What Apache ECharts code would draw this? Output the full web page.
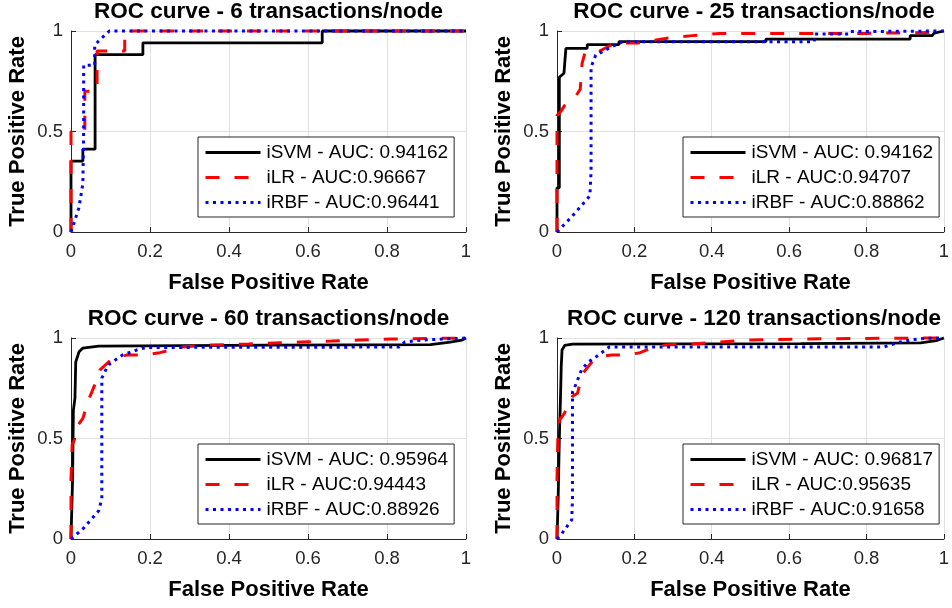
<!DOCTYPE html>
<html><head><meta charset="utf-8">
<script src="https://cdn.jsdelivr.net/npm/echarts@6/dist/echarts.min.js"></script>
<style>html,body{margin:0;padding:0;background:#fff}#c{width:952px;height:608px}</style>
</head><body><div id="c"></div>
<script>
// ---- data ----
const titles = ['ROC curve - 6 transactions/node','ROC curve - 25 transactions/node','ROC curve - 60 transactions/node','ROC curve - 120 transactions/node'];
const svmNames = ['iSVM - AUC: 0.94162','iSVM - AUC: 0.94162','iSVM - AUC: 0.95964','iSVM - AUC: 0.96817'];
const lrNames  = ['iLR - AUC:0.96667','iLR - AUC:0.94707','iLR - AUC:0.94443','iLR - AUC:0.95635'];
const rbfNames = ['iRBF - AUC:0.96441','iRBF - AUC:0.88862','iRBF - AUC:0.88926','iRBF - AUC:0.91658'];
const xTickLabels = ['0','0.2','0.4','0.6','0.8','1'];
const yTickLabels = ['0','0.5','1'];
const xName = 'False Positive Rate';
const yName = 'True Positive Rate';

const svm6 = [[0,0],[0,0.353],[0.03,0.353],[0.03,0.412],[0.061,0.412],[0.061,0.882],[0.182,0.882],[0.182,0.941],[0.636,0.941],[0.636,1],[1,1]];
const lr6  = [[0,0],[0,0.5],[0.035,0.5],[0.035,0.7],[0.066,0.7],[0.066,0.9],[0.136,0.9],[0.136,1],[1,1]];
const rbf6 = [[0,0],[0.005,0.03],[0.02,0.12],[0.03,0.24],[0.032,0.5],[0.032,0.83],[0.06,0.83],[0.06,0.93],[0.07,0.95],[0.097,1],[1,1]];

const svm25 = [[0,0],[0,0.22],[0.006,0.22],[0.006,0.77],[0.018,0.79],[0.023,0.79],[0.023,0.914],[0.078,0.914],[0.078,0.932],[0.16,0.932],[0.16,0.947],[0.54,0.947],[0.54,0.96],[0.913,0.96],[0.913,0.977],[0.97,0.977],[0.975,0.99],[1,1]];
const lr25  = [[0,0],[0,0.58],[0.01,0.6],[0.02,0.63],[0.05,0.68],[0.06,0.71],[0.065,0.71],[0.065,0.84],[0.072,0.89],[0.08,0.9],[0.11,0.9],[0.15,0.94],[0.21,0.94],[0.24,0.95],[0.28,0.963],[0.35,0.977],[0.42,0.988],[0.8,0.988],[0.97,0.993],[1,1]];
const rbf25 = [[0,0],[0.04,0.08],[0.085,0.18],[0.088,0.3],[0.088,0.82],[0.1,0.88],[0.14,0.92],[0.17,0.947],[0.665,0.947],[0.667,0.985],[0.755,0.985],[0.757,0.997],[1,1]];

const svm60 = [[0,0],[0.004,0.3],[0.006,0.64],[0.01,0.7],[0.012,0.88],[0.02,0.93],[0.03,0.95],[0.07,0.96],[0.5,0.965],[0.91,0.967],[0.96,0.98],[0.99,0.99],[1,1]];
const lr60  = [[0,0],[0,0.3],[0.003,0.47],[0.01,0.5],[0.019,0.57],[0.03,0.6],[0.044,0.69],[0.065,0.79],[0.073,0.84],[0.1,0.89],[0.14,0.915],[0.18,0.915],[0.225,0.927],[0.25,0.94],[0.28,0.955],[0.35,0.965],[0.45,0.97],[0.58,0.98],[0.66,0.985],[0.73,0.99],[0.81,0.995],[1,1]];
const rbf60 = [[0,0],[0.03,0.05],[0.07,0.14],[0.078,0.2],[0.078,0.8],[0.09,0.85],[0.1,0.875],[0.13,0.915],[0.166,0.94],[0.19,0.953],[0.83,0.955],[0.845,0.98],[0.89,0.99],[1,1]];

const svm120 = [[0,0],[0.003,0.2],[0.006,0.5],[0.009,0.7],[0.011,0.86],[0.013,0.94],[0.02,0.963],[0.04,0.97],[0.63,0.972],[0.94,0.976],[0.98,0.987],[1,1]];
const lr120  = [[0,0],[0,0.3],[0.002,0.49],[0.006,0.59],[0.019,0.625],[0.04,0.71],[0.053,0.725],[0.065,0.82],[0.09,0.88],[0.112,0.907],[0.14,0.915],[0.18,0.915],[0.215,0.927],[0.244,0.95],[0.28,0.965],[0.35,0.97],[0.42,0.98],[0.5,0.99],[0.65,0.995],[0.8,0.998],[1,1]];
const rbf120 = [[0,0],[0.01,0.02],[0.038,0.095],[0.04,0.2],[0.04,0.73],[0.05,0.775],[0.063,0.84],[0.08,0.88],[0.1,0.905],[0.135,0.955],[0.845,0.955],[0.88,0.977],[0.913,0.99],[0.947,0.998],[1,1]];

const svmData = [svm6, svm25, svm60, svm120];
const lrData  = [lr6, lr25, lr60, lr120];
const rbfData = [rbf6, rbf25, rbf60, rbf120];

// ---- layout / style ----
const FONT = '"Liberation Sans", Arial, Helvetica, sans-serif';
const AX = '#262626';
const gridPos = [
  {left:71, top:31, width:395, height:201},
  {left:557, top:31, width:394, height:201},
  {left:71, top:338, width:395, height:201},
  {left:557, top:338, width:394, height:201}
];
const legendPos = [{left:198,top:137},{left:683,top:137},{left:198,top:444},{left:683,top:444}];
const svmLine = {color:'#000000', width:2.8, type:'solid'};
const lrLine  = {color:'#ff0000', width:3, type:[14,15]};
const rbfLine = {color:'#0000ff', width:3, type:[3,4.5]};

const option = {
  backgroundColor:'#fff',
  animation:false,
  title:[], grid:[], xAxis:[], yAxis:[], legend:[], series:[]
};

for (let i = 0; i < 4; i++) {
  const g = gridPos[i];
  option.grid.push({left:g.left, top:g.top, width:g.width, height:g.height, containLabel:false});
  option.title.push({
    text: titles[i], left: g.left + g.width/2, top: g.top - 31, textAlign:'center', padding:0,
    textStyle:{fontFamily:FONT, fontSize:22.5, fontWeight:'bold', color:'#000'}
  });
  option.xAxis.push({
    type:'value', gridIndex:i, min:0, max:1, interval:0.2,
    name:xName, nameLocation:'middle', nameGap:40,
    nameTextStyle:{fontFamily:FONT, fontSize:22, fontWeight:'bold', color:'#000'},
    axisLine:{show:true, onZero:false, lineStyle:{color:AX, width:1}},
    axisTick:{show:true, inside:true, length:5, lineStyle:{color:AX}},
    axisLabel:{fontFamily:FONT, fontSize:18.5, color:AX, margin:10,
      formatter:(v)=>xTickLabels[Math.round(v/0.2)]},
    splitLine:{show:true, lineStyle:{color:'#e1e1e1', width:1}}
  });
  option.yAxis.push({
    type:'value', gridIndex:i, min:0, max:1, interval:0.5,
    name:yName, nameLocation:'middle', nameGap:42,
    nameTextStyle:{fontFamily:FONT, fontSize:22, fontWeight:'bold', color:'#000'},
    axisLine:{show:true, onZero:false, lineStyle:{color:AX, width:1}},
    axisTick:{show:true, inside:true, length:5, lineStyle:{color:AX}},
    axisLabel:{fontFamily:FONT, fontSize:18.5, color:AX, margin:8,
      formatter:(v)=>yTickLabels[Math.round(v/0.5)]},
    splitLine:{show:true, lineStyle:{color:'#e1e1e1', width:1}}
  });
  option.legend.push({
    orient:'vertical', left:legendPos[i].left, top:legendPos[i].top,
    padding:[6,6,5,6], itemGap:6, itemWidth:55, itemHeight:14,
    backgroundColor:'#fff', borderColor:AX, borderWidth:1, borderRadius:0,
    selectedMode:false,
    itemStyle:{opacity:0},
    textStyle:{fontFamily:FONT, fontSize:19, lineHeight:19, color:'#000', padding:[0,0,0,1]},
    data:[
      {name:svmNames[i], itemStyle:{opacity:0}, lineStyle:Object.assign({}, svmLine)},
      {name:lrNames[i],  itemStyle:{opacity:0}, lineStyle:Object.assign({}, lrLine)},
      {name:rbfNames[i], itemStyle:{opacity:0}, lineStyle:Object.assign({}, rbfLine)}
    ]
  });
  const common = {type:'line', xAxisIndex:i, yAxisIndex:i, symbol:'none', showSymbol:false, clip:false, silent:true};
  option.series.push(Object.assign({}, common, {name:svmNames[i], data:svmData[i], lineStyle:svmLine, itemStyle:{color:svmLine.color}}));
  option.series.push(Object.assign({}, common, {name:lrNames[i],  data:lrData[i],  lineStyle:lrLine,  itemStyle:{color:lrLine.color}}));
  option.series.push(Object.assign({}, common, {name:rbfNames[i], data:rbfData[i], lineStyle:rbfLine, itemStyle:{color:rbfLine.color}}));
}

const chart = echarts.init(document.getElementById('c'), null, {renderer:'canvas'});
chart.setOption(option);
</script>
</body></html>
